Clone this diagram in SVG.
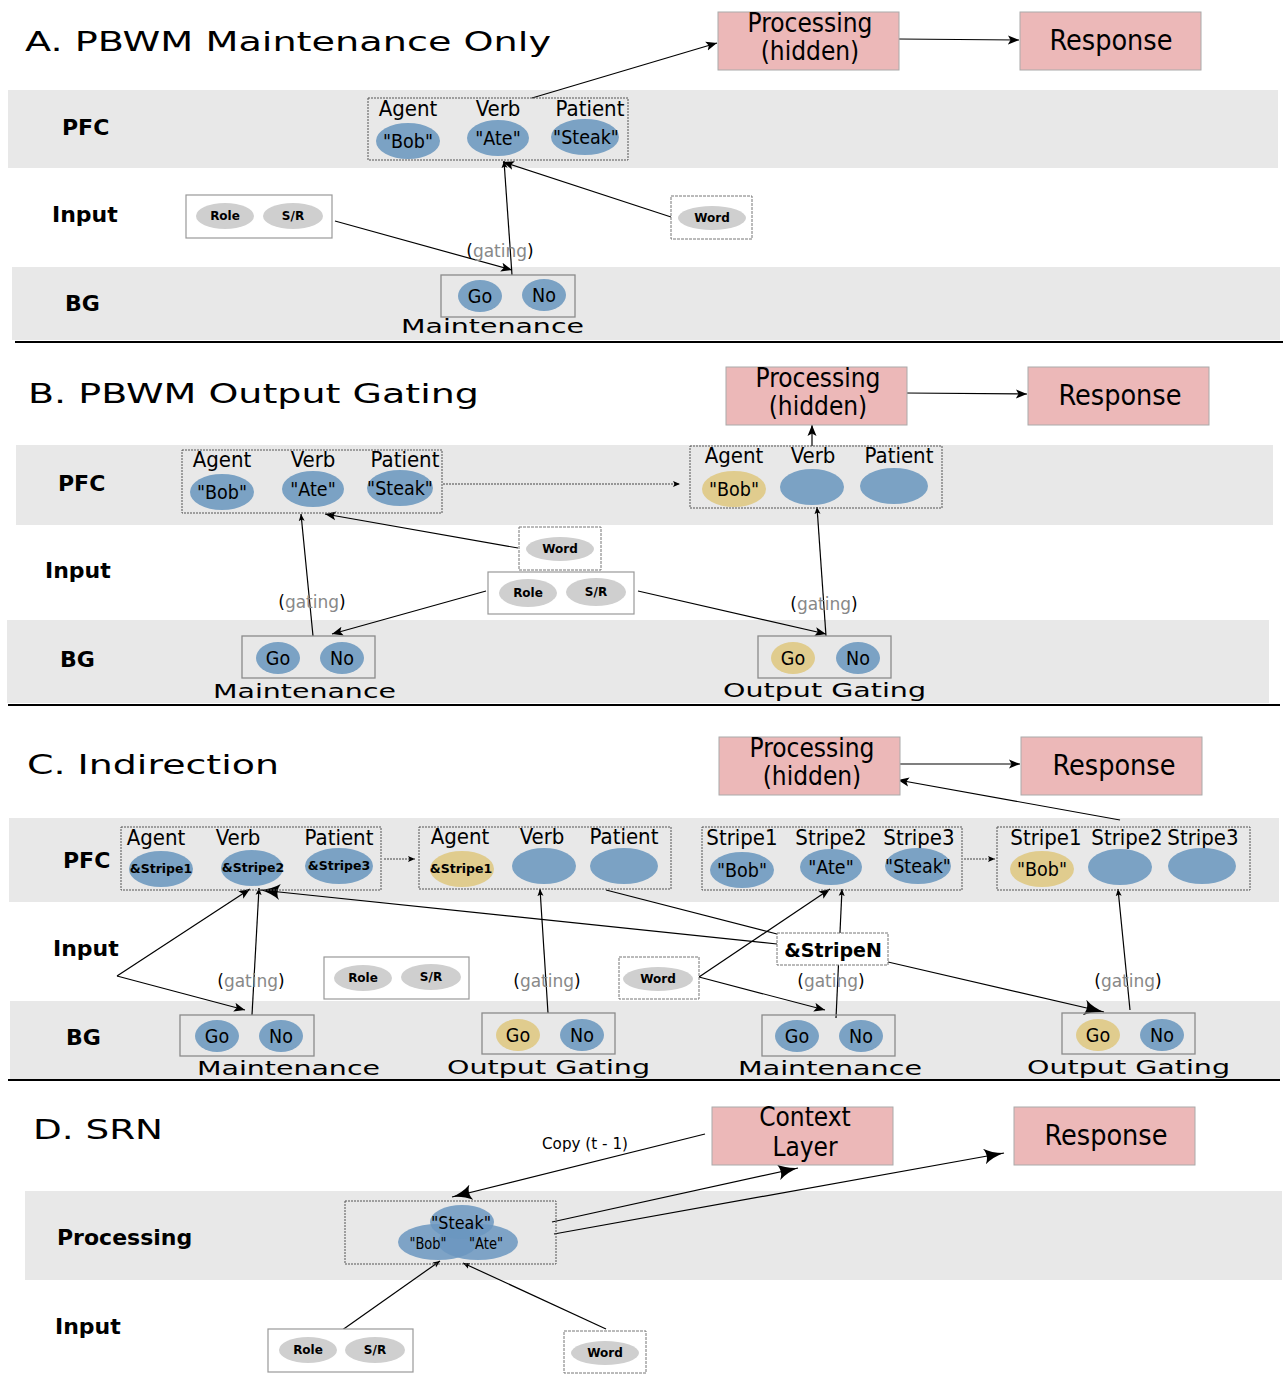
<svg xmlns="http://www.w3.org/2000/svg" width="1283" height="1379" viewBox="0 0 1283 1379">
<style>
.band{fill:#e8e8e8}
.pink{fill:#ecb8b8;stroke:#aaa;stroke-width:1}
.dot{fill:none;stroke:#555;stroke-width:1;stroke-dasharray:2,1}
.sbox{fill:none;stroke:#8a8a8a;stroke-width:1.3}
.dbox{fill:#fff;stroke:#777;stroke-width:1;stroke-dasharray:3,1}
.wbox{fill:#fff;stroke:#999;stroke-width:1.2}
.blue{fill:#7ba2c4}
.yel{fill:#e0cc8e}
.gray{fill:#cfcfcf}
.tblue{fill:#6b97c0;fill-opacity:0.85}
.conn{stroke:#000;stroke-width:1.2;fill:none}
.dconn{stroke:#444;stroke-width:1;fill:none;stroke-dasharray:2,1}
.div{stroke:#000;stroke-width:2}
text{font-family:"DejaVu Sans Condensed","DejaVu Sans",sans-serif;fill:#000}
.title{font-family:"DejaVu Sans",sans-serif;font-size:26px}
.layer{font-family:"DejaVu Sans",sans-serif;font-weight:bold;font-size:22px}
.box{font-size:26px;text-anchor:middle;font-stretch:condensed}
.resp{font-size:28.5px;text-anchor:middle;font-stretch:condensed}
.role{font-size:22px;text-anchor:middle;font-stretch:condensed}
.val{font-size:19.5px;text-anchor:middle;font-stretch:condensed}
.ref{font-family:"DejaVu Sans",sans-serif;font-weight:bold;font-size:12.5px;text-anchor:middle}
.inp{font-family:"DejaVu Sans",sans-serif;font-weight:bold;font-size:12px;text-anchor:middle}
.gname{font-family:"DejaVu Sans",sans-serif;font-size:20px}
.gat{font-family:"DejaVu Sans",sans-serif;font-size:17px;text-anchor:middle}
.g{fill:#888}
</style>
<defs>
<marker id="ah" markerUnits="userSpaceOnUse" markerWidth="12" markerHeight="10" refX="11" refY="5" orient="auto">
<path d="M0,0.5 L11,5 L0,9.5 L2.5,5 z" fill="#000"/>
</marker>
<marker id="ahs" markerUnits="userSpaceOnUse" markerWidth="8" markerHeight="8" refX="7" refY="4" orient="auto">
<path d="M0,1 L7,4 L0,7 L1.5,4 z" fill="#000"/>
</marker>
<marker id="ahb" markerUnits="userSpaceOnUse" markerWidth="22" markerHeight="16" refX="20" refY="8" orient="auto">
<path d="M0,0 Q8,6 20,8 Q8,10 0,16 Q5,8 0,0 z" fill="#000"/>
</marker>
</defs>

<!-- ================= Section A ================= -->
<g id="bandsA">
<rect class="band" x="8" y="90" width="1270" height="78"/>
<rect class="band" x="12" y="267" width="1268" height="73"/>
</g>
<text class="title" x="25" y="51" textLength="526" lengthAdjust="spacingAndGlyphs">A. PBWM Maintenance Only</text>
<text class="layer" x="62" y="135">PFC</text>
<text class="layer" x="52" y="222">Input</text>
<text class="layer" x="65" y="311">BG</text>
<line class="div" x1="15" y1="342" x2="1283" y2="342"/>

<g id="connA">
<line class="conn" x1="532" y1="98" x2="717" y2="43" marker-end="url(#ah)"/>
<line class="conn" x1="898" y1="39" x2="1019" y2="40" marker-end="url(#ah)"/>
<line class="conn" x1="671" y1="217" x2="503" y2="162" marker-end="url(#ah)"/>
<line class="conn" x1="335" y1="221" x2="512" y2="270" marker-end="url(#ah)"/>
<line class="conn" x1="512" y1="275" x2="504" y2="161" marker-end="url(#ahs)"/>
</g>

<g id="A-processing"><rect class="pink" x="718" y="12" width="181" height="58"/><text class="box" x="810" y="32">Processing</text><text class="box" x="810" y="60">(hidden)</text></g>
<g id="A-response"><rect class="pink" x="1020" y="12" width="181" height="58"/><text class="resp" x="1111" y="50">Response</text></g>
<g id="A-pfc">
<rect class="dot" x="368" y="98" width="260" height="62"/>
<text class="role" x="408" y="116">Agent</text><text class="role" x="498" y="116">Verb</text><text class="role" x="590" y="116">Patient</text>
<ellipse class="blue" cx="408" cy="141" rx="32" ry="18"/><text class="val" x="408" y="148">"Bob"</text>
<ellipse class="blue" cx="498" cy="138" rx="31" ry="18"/><text class="val" x="498" y="145">"Ate"</text>
<ellipse class="blue" cx="585" cy="137" rx="34" ry="18"/><text class="val" x="586" y="144">"Steak"</text>
</g>
<g id="A-rolesr"><rect class="wbox" x="186" y="195" width="146" height="43"/>
<ellipse class="gray" cx="225" cy="216" rx="29" ry="13"/><text class="inp" x="225" y="220">Role</text>
<ellipse class="gray" cx="293" cy="216" rx="30" ry="13"/><text class="inp" x="293" y="220">S/R</text></g>
<g id="A-word"><rect class="dbox" x="671" y="196" width="81" height="43"/>
<ellipse class="gray" cx="712" cy="218" rx="34" ry="12"/><text class="inp" x="712" y="222">Word</text></g>
<g id="A-maint"><rect class="sbox" x="441" y="275" width="134" height="42"/>
<ellipse class="blue" cx="480" cy="296" rx="22" ry="16"/><text class="val" x="480" y="303">Go</text>
<ellipse class="blue" cx="544" cy="295" rx="22" ry="16"/><text class="val" x="544" y="302">No</text>
<text class="gname" x="401" y="333" textLength="183" lengthAdjust="spacingAndGlyphs">Maintenance</text></g>
<text class="gat" x="500" y="257">(<tspan class="g">gating</tspan>)</text>

<!-- ================= Section B ================= -->
<g id="bandsB">
<rect class="band" x="16" y="445" width="1257" height="80"/>
<rect class="band" x="7" y="620" width="1262" height="83"/>
</g>
<text class="title" x="28" y="403" textLength="451" lengthAdjust="spacingAndGlyphs">B. PBWM Output Gating</text>
<text class="layer" x="58" y="491">PFC</text>
<text class="layer" x="45" y="578">Input</text>
<text class="layer" x="60" y="667">BG</text>
<line class="div" x1="8" y1="705" x2="1280" y2="705"/>

<g id="connB">
<line class="conn" x1="905" y1="393" x2="1027" y2="394" marker-end="url(#ah)"/>
<line class="conn" x1="812" y1="446" x2="812" y2="425" marker-end="url(#ah)"/>
<line class="dconn" x1="443" y1="484" x2="680" y2="484" marker-end="url(#ahs)"/>
<line class="conn" x1="518" y1="548" x2="325" y2="514" marker-end="url(#ah)"/>
<line class="conn" x1="486" y1="591" x2="332" y2="634" marker-end="url(#ah)"/>
<line class="conn" x1="638" y1="591" x2="826" y2="634" marker-end="url(#ah)"/>
<line class="conn" x1="313" y1="636" x2="301" y2="514" marker-end="url(#ahs)"/>
<line class="conn" x1="826" y1="636" x2="817" y2="507" marker-end="url(#ahs)"/>
</g>

<g id="B-processing"><rect class="pink" x="726" y="367" width="181" height="58"/><text class="box" x="818" y="387">Processing</text><text class="box" x="818" y="415">(hidden)</text></g>
<g id="B-response"><rect class="pink" x="1028" y="367" width="181" height="58"/><text class="resp" x="1120" y="405">Response</text></g>
<g id="B-pfc1">
<rect class="dot" x="182" y="450" width="260" height="63"/>
<text class="role" x="222" y="467">Agent</text><text class="role" x="313" y="467">Verb</text><text class="role" x="405" y="467">Patient</text>
<ellipse class="blue" cx="222" cy="492" rx="32" ry="18"/><text class="val" x="222" y="499">"Bob"</text>
<ellipse class="blue" cx="313" cy="489" rx="31" ry="18"/><text class="val" x="313" y="496">"Ate"</text>
<ellipse class="blue" cx="400" cy="488" rx="33" ry="18"/><text class="val" x="400" y="495">"Steak"</text>
</g>
<g id="B-pfc2">
<rect class="dot" x="690" y="446" width="252" height="62"/>
<text class="role" x="734" y="463">Agent</text><text class="role" x="813" y="463">Verb</text><text class="role" x="899" y="463">Patient</text>
<ellipse class="yel" cx="734" cy="489" rx="32" ry="18"/><text class="val" x="734" y="496">"Bob"</text>
<ellipse class="blue" cx="812" cy="487" rx="32" ry="18"/>
<ellipse class="blue" cx="894" cy="486" rx="34" ry="18"/>
</g>
<g id="B-word"><rect class="dbox" x="519" y="527" width="82" height="43"/>
<ellipse class="gray" cx="560" cy="549" rx="34" ry="12"/><text class="inp" x="560" y="553">Word</text></g>
<g id="B-rolesr"><rect class="wbox" x="488" y="572" width="146" height="42"/>
<ellipse class="gray" cx="528" cy="593" rx="29" ry="14"/><text class="inp" x="528" y="597">Role</text>
<ellipse class="gray" cx="596" cy="592" rx="30" ry="14"/><text class="inp" x="596" y="596">S/R</text></g>
<g id="B-maint"><rect class="sbox" x="242" y="636" width="133" height="42"/>
<ellipse class="blue" cx="278" cy="658" rx="22" ry="16"/><text class="val" x="278" y="665">Go</text>
<ellipse class="blue" cx="342" cy="658" rx="22" ry="16"/><text class="val" x="342" y="665">No</text>
<text class="gname" x="213" y="698" textLength="183" lengthAdjust="spacingAndGlyphs">Maintenance</text></g>
<g id="B-outgate"><rect class="sbox" x="758" y="636" width="133" height="42"/>
<ellipse class="yel" cx="793" cy="658" rx="22" ry="16"/><text class="val" x="793" y="665">Go</text>
<ellipse class="blue" cx="858" cy="658" rx="22" ry="16"/><text class="val" x="858" y="665">No</text>
<text class="gname" x="723" y="697" textLength="203" lengthAdjust="spacingAndGlyphs">Output Gating</text></g>
<text class="gat" x="312" y="608">(<tspan class="g">gating</tspan>)</text>
<text class="gat" x="824" y="610">(<tspan class="g">gating</tspan>)</text>

<!-- ================= Section C ================= -->
<g id="bandsC">
<rect class="band" x="9" y="818" width="1270" height="84"/>
<rect class="band" x="10" y="1001" width="1270" height="78"/>
</g>
<text class="title" x="27" y="774" textLength="252" lengthAdjust="spacingAndGlyphs">C. Indirection</text>
<text class="layer" x="63" y="868">PFC</text>
<text class="layer" x="53" y="956">Input</text>
<text class="layer" x="66" y="1045">BG</text>
<line class="div" x1="8" y1="1080" x2="1280" y2="1080"/>

<g id="connC">
<line class="conn" x1="898" y1="764" x2="1020" y2="764" marker-end="url(#ah)"/>
<line class="conn" x1="1120" y1="820" x2="898" y2="780" marker-end="url(#ah)"/>
<line class="dconn" x1="384" y1="859" x2="415" y2="859" marker-end="url(#ahs)"/>
<line class="dconn" x1="964" y1="859" x2="995" y2="859" marker-end="url(#ahs)"/>
<line class="conn" x1="117" y1="976" x2="245" y2="1010" marker-end="url(#ah)"/>
<line class="conn" x1="117" y1="976" x2="250" y2="889" marker-end="url(#ah)"/>
<line class="conn" x1="252" y1="1015" x2="259" y2="888" marker-end="url(#ahs)"/>
<line class="conn" x1="777" y1="944" x2="260" y2="890" marker-end="url(#ahb)"/>
<line class="conn" x1="606" y1="890" x2="777" y2="934"/>
<line class="conn" x1="888" y1="962" x2="1104" y2="1012" marker-end="url(#ahb)"/>
<line class="conn" x1="699" y1="977" x2="830" y2="889" marker-end="url(#ah)"/>
<line class="conn" x1="699" y1="977" x2="825" y2="1010" marker-end="url(#ah)"/>
<line class="conn" x1="548" y1="1013" x2="540" y2="889" marker-end="url(#ahs)"/>
<line class="conn" x1="836" y1="1018" x2="842" y2="889" marker-end="url(#ahs)"/>
<line class="conn" x1="1130" y1="1010" x2="1118" y2="889" marker-end="url(#ahs)"/>
</g>

<g id="C-processing"><rect class="pink" x="719" y="737" width="181" height="58"/><text class="box" x="812" y="757">Processing</text><text class="box" x="812" y="785">(hidden)</text></g>
<g id="C-response"><rect class="pink" x="1021" y="737" width="181" height="58"/><text class="resp" x="1114" y="775">Response</text></g>
<g id="C-pfc1">
<rect class="dot" x="121" y="827" width="260" height="63"/>
<text class="role" x="156" y="845">Agent</text><text class="role" x="238" y="845">Verb</text><text class="role" x="339" y="845">Patient</text>
<ellipse class="blue" cx="161" cy="869" rx="32" ry="18"/><text class="ref" x="161" y="873">&amp;Stripe1</text>
<ellipse class="blue" cx="252" cy="868" rx="31" ry="18"/><text class="ref" x="253" y="872">&amp;Stripe2</text>
<ellipse class="blue" cx="339" cy="866" rx="34" ry="18"/><text class="ref" x="339" y="870">&amp;Stripe3</text>
</g>
<g id="C-pfc2">
<rect class="dot" x="419" y="827" width="252" height="62"/>
<text class="role" x="460" y="844">Agent</text><text class="role" x="542" y="844">Verb</text><text class="role" x="624" y="844">Patient</text>
<ellipse class="yel" cx="462" cy="869" rx="32" ry="18"/><text class="ref" x="461" y="873">&amp;Stripe1</text>
<ellipse class="blue" cx="544" cy="866" rx="32" ry="18"/>
<ellipse class="blue" cx="624" cy="866" rx="34" ry="18"/>
</g>
<g id="C-pfc3">
<rect class="dot" x="702" y="827" width="260" height="63"/>
<text class="role" x="742" y="845">Stripe1</text><text class="role" x="831" y="845">Stripe2</text><text class="role" x="919" y="845">Stripe3</text>
<ellipse class="blue" cx="742" cy="870" rx="32" ry="18"/><text class="val" x="742" y="877">"Bob"</text>
<ellipse class="blue" cx="831" cy="867" rx="31" ry="18"/><text class="val" x="831" y="874">"Ate"</text>
<ellipse class="blue" cx="918" cy="866" rx="33" ry="18"/><text class="val" x="918" y="873">"Steak"</text>
</g>
<g id="C-pfc4">
<rect class="dot" x="997" y="827" width="253" height="63"/>
<text class="role" x="1046" y="845">Stripe1</text><text class="role" x="1127" y="845">Stripe2</text><text class="role" x="1203" y="845">Stripe3</text>
<ellipse class="yel" cx="1042" cy="869" rx="32" ry="18"/><text class="val" x="1042" y="876">"Bob"</text>
<ellipse class="blue" cx="1120" cy="867" rx="32" ry="18"/>
<ellipse class="blue" cx="1202" cy="866" rx="34" ry="18"/>
</g>
<g id="C-rolesr"><rect class="wbox" x="324" y="957" width="145" height="42"/>
<ellipse class="gray" cx="363" cy="978" rx="29" ry="13"/><text class="inp" x="363" y="982">Role</text>
<ellipse class="gray" cx="431" cy="977" rx="30" ry="13"/><text class="inp" x="431" y="981">S/R</text></g>
<g id="C-word"><rect class="dbox" x="619" y="957" width="80" height="42"/>
<ellipse class="gray" cx="658" cy="979" rx="35" ry="12"/><text class="inp" x="658" y="983">Word</text></g>
<g id="C-stripeN"><rect class="dbox" x="777" y="933" width="111" height="32"/>
<text x="833" y="957" text-anchor="middle" style="font-family:'DejaVu Sans',sans-serif;font-weight:bold;font-size:19px">&amp;StripeN</text></g>
<g id="C-maint1"><rect class="sbox" x="180" y="1015" width="134" height="41"/>
<ellipse class="blue" cx="217" cy="1036" rx="22" ry="16"/><text class="val" x="217" y="1043">Go</text>
<ellipse class="blue" cx="281" cy="1036" rx="22" ry="16"/><text class="val" x="281" y="1043">No</text>
<text class="gname" x="197" y="1075" textLength="183" lengthAdjust="spacingAndGlyphs">Maintenance</text></g>
<g id="C-out1"><rect class="sbox" x="482" y="1013" width="133" height="41"/>
<ellipse class="yel" cx="518" cy="1035" rx="22" ry="16"/><text class="val" x="518" y="1042">Go</text>
<ellipse class="blue" cx="582" cy="1035" rx="22" ry="16"/><text class="val" x="582" y="1042">No</text>
<text class="gname" x="447" y="1074" textLength="203" lengthAdjust="spacingAndGlyphs">Output Gating</text></g>
<g id="C-maint2"><rect class="sbox" x="762" y="1015" width="133" height="41"/>
<ellipse class="blue" cx="797" cy="1036" rx="22" ry="16"/><text class="val" x="797" y="1043">Go</text>
<ellipse class="blue" cx="861" cy="1036" rx="22" ry="16"/><text class="val" x="861" y="1043">No</text>
<text class="gname" x="738" y="1075" textLength="184" lengthAdjust="spacingAndGlyphs">Maintenance</text></g>
<g id="C-out2"><rect class="sbox" x="1062" y="1013" width="133" height="41"/>
<ellipse class="yel" cx="1098" cy="1035" rx="22" ry="16"/><text class="val" x="1098" y="1042">Go</text>
<ellipse class="blue" cx="1162" cy="1035" rx="22" ry="16"/><text class="val" x="1162" y="1042">No</text>
<text class="gname" x="1027" y="1074" textLength="203" lengthAdjust="spacingAndGlyphs">Output Gating</text></g>
<text class="gat" x="251" y="987">(<tspan class="g">gating</tspan>)</text>
<text class="gat" x="547" y="987">(<tspan class="g">gating</tspan>)</text>
<text class="gat" x="831" y="987">(<tspan class="g">gating</tspan>)</text>
<text class="gat" x="1128" y="987">(<tspan class="g">gating</tspan>)</text>

<!-- ================= Section D ================= -->
<g id="bandsD">
<rect class="band" x="25" y="1191" width="1257" height="89"/>
</g>
<text class="title" x="33" y="1139" textLength="130" lengthAdjust="spacingAndGlyphs">D. SRN</text>
<text class="layer" x="57" y="1245">Processing</text>
<text class="layer" x="55" y="1334">Input</text>
<text x="542" y="1149" textLength="86" lengthAdjust="spacingAndGlyphs" style="font-size:15px;font-stretch:condensed">Copy (t - 1)</text>

<g id="connD">
<line class="conn" x1="705" y1="1134" x2="452" y2="1197" marker-end="url(#ahb)"/>
<line class="conn" x1="552" y1="1222" x2="798" y2="1168" marker-end="url(#ahb)"/>
<line class="conn" x1="554" y1="1234" x2="1004" y2="1153" marker-end="url(#ahb)"/>
<line class="conn" x1="338" y1="1333" x2="440" y2="1261" marker-end="url(#ahs)"/>
<line class="conn" x1="606" y1="1329" x2="463" y2="1263" marker-end="url(#ahs)"/>
</g>

<g id="D-context"><rect class="pink" x="712" y="1107" width="181" height="58"/><text class="box" x="805" y="1126">Context</text><text class="box" x="805" y="1156">Layer</text></g>
<g id="D-response"><rect class="pink" x="1014" y="1107" width="181" height="58"/><text class="resp" x="1106" y="1145">Response</text></g>
<g id="D-processing">
<rect class="dot" x="345" y="1201" width="211" height="63"/>
<ellipse class="tblue" cx="438" cy="1242" rx="40" ry="18"/>
<ellipse class="tblue" cx="478" cy="1242" rx="40" ry="18"/>
<ellipse class="tblue" cx="462" cy="1222" rx="32" ry="17"/>
<text x="461" y="1229" text-anchor="middle" textLength="60" lengthAdjust="spacingAndGlyphs" style="font-size:18px;font-stretch:condensed">"Steak"</text>
<text x="428" y="1249" text-anchor="middle" style="font-size:16px;font-stretch:condensed" textLength="37" lengthAdjust="spacingAndGlyphs">"Bob"</text>
<text x="486" y="1249" text-anchor="middle" style="font-size:16px;font-stretch:condensed" textLength="34" lengthAdjust="spacingAndGlyphs">"Ate"</text>
</g>
<g id="D-rolesr"><rect class="wbox" x="268" y="1329" width="145" height="43"/>
<ellipse class="gray" cx="308" cy="1350" rx="29" ry="13"/><text class="inp" x="308" y="1354">Role</text>
<ellipse class="gray" cx="375" cy="1350" rx="30" ry="13"/><text class="inp" x="375" y="1354">S/R</text></g>
<g id="D-word"><rect class="dbox" x="564" y="1331" width="82" height="42"/>
<ellipse class="gray" cx="605" cy="1353" rx="34" ry="12"/><text class="inp" x="605" y="1357">Word</text></g>
</svg>
